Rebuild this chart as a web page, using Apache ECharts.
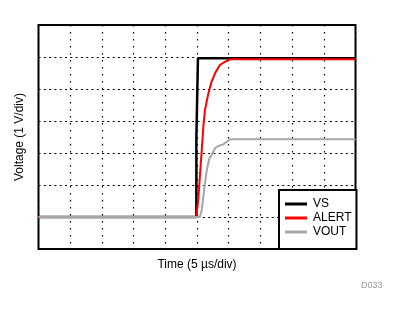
<!DOCTYPE html>
<html>
<head>
<meta charset="utf-8">
<script src="https://cdn.jsdelivr.net/npm/echarts@6/dist/echarts.min.js"></script>
<style>html,body{margin:0;padding:0;background:#fff;}#c{width:394px;height:312px;}</style>
</head>
<body>
<div id="c"></div>
<script>
// Data (x in time divisions, y in voltage divisions)
var seriesNames = ['VS', 'ALERT', 'VOUT'];
var vsTime   = [0, 4.98, 4.98, 5.03, 5.03, 10];
var vsVolt   = [1, 1, 3.46, 3.46, 5.96, 5.96];
var alertTime = [0, 4.99, 5.0, 5.04, 5.09, 5.15, 5.2, 5.25, 5.36, 5.46, 5.57, 5.72, 5.88, 6.04, 10];
var alertVolt = [1, 1, 1.2, 1.53, 2.26, 3.09, 3.82, 4.34, 4.87, 5.23, 5.49, 5.75, 5.85, 5.93, 5.93];
var voutTime = [0, 5.09, 5.15, 5.2, 5.25, 5.31, 5.39, 5.46, 5.57, 5.67, 5.83, 6.04, 10];
var voutVolt = [1, 1, 1.22, 1.63, 2.05, 2.47, 2.83, 2.94, 3.15, 3.22, 3.27, 3.43, 3.43];
var xLabel = 'Time (5 µs/div)';
var yLabel = 'Voltage (1 V/div)';
var noteLabel = 'D033';

function pairs(xs, ys) { return xs.map(function (x, i) { return [x, ys[i]]; }); }

var FONT = '"Liberation Sans", Arial, sans-serif';
var chart = echarts.init(document.getElementById('c'), null, { renderer: 'canvas' });
chart.setOption({
  animation: false,
  backgroundColor: '#fff',
  textStyle: { fontFamily: FONT },
  title: {
    text: noteLabel, left: 356, top: 276,
    textStyle: { fontSize: 9, color: '#9a9a9a', fontWeight: 'normal', fontFamily: FONT }
  },
  grid: { left: 38.5, top: 25, width: 317, height: 224, show: true, borderColor: '#000', borderWidth: 2, backgroundColor: 'transparent' },
  xAxis: {
    type: 'value', min: 0, max: 10, interval: 1,
    name: xLabel, nameLocation: 'middle', nameGap: 10,
    nameTextStyle: { fontSize: 12, color: '#000', fontFamily: FONT },
    axisLine: { show: false }, axisTick: { show: false }, axisLabel: { show: false },
    splitLine: { show: true, lineStyle: { color: '#000', width: 1.2, type: [1.5, 5.5] } }
  },
  yAxis: {
    type: 'value', min: 0, max: 7, interval: 1,
    name: yLabel, nameLocation: 'middle', nameGap: 13,
    nameTextStyle: { fontSize: 12, color: '#000', fontFamily: FONT },
    axisLine: { show: false }, axisTick: { show: false }, axisLabel: { show: false },
    splitLine: { show: true, lineStyle: { color: '#000', width: 1.2, type: [2, 3.3] } }
  },
  legend: {
    data: seriesNames, orient: 'vertical', left: 279, top: 190,
    icon: 'rect', itemWidth: 22, itemHeight: 3, itemGap: 0,
    padding: [7, 5, 10, 6],
    borderColor: '#000', borderWidth: 2, backgroundColor: '#fff',
    textStyle: { fontSize: 12, color: '#000', lineHeight: 14, fontFamily: FONT, padding: [0, 0, 0, 1] },
    selectedMode: false, z: 10
  },
  series: [
    { name: seriesNames[0], type: 'line', data: pairs(vsTime, vsVolt), showSymbol: false, color: '#000', lineStyle: { width: 2.5, color: '#000' } },
    { name: seriesNames[1], type: 'line', data: pairs(alertTime, alertVolt), showSymbol: false, color: '#ff0000', lineStyle: { width: 2, color: '#ff0000' } },
    { name: seriesNames[2], type: 'line', data: pairs(voutTime, voutVolt), showSymbol: false, color: '#a6a6a6', lineStyle: { width: 2, color: '#a6a6a6' } }
  ]
});
</script>
</body>
</html>
